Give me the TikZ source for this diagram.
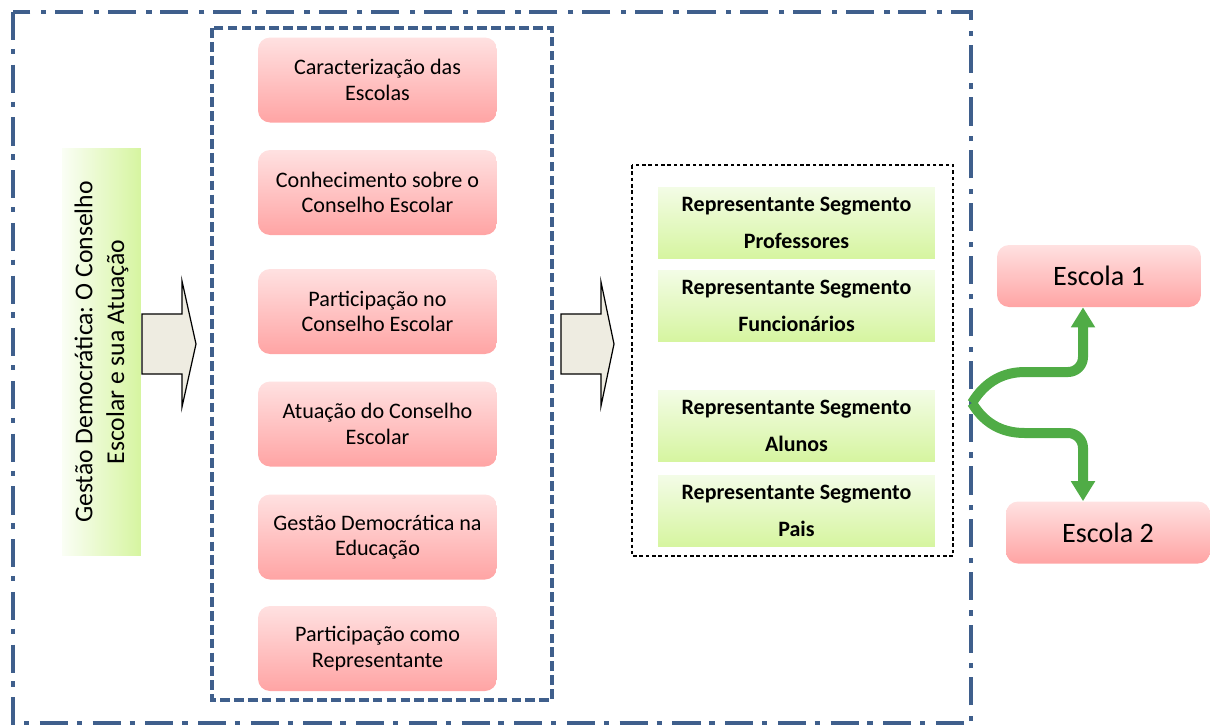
\documentclass[tikz,border=0pt]{standalone}
\usepackage{fontspec}
\setmainfont{Carlito}
\usetikzlibrary{arrows.meta}
\frenchspacing

\definecolor{framebl}{RGB}{63,95,140}
\definecolor{pinktop}{RGB}{255,225,225}
\definecolor{pinkbot}{RGB}{255,164,164}
\definecolor{limetop}{RGB}{243,252,230}
\definecolor{limebot}{RGB}{214,245,160}
\definecolor{arrowfill}{RGB}{238,236,225}
\definecolor{linkgreen}{RGB}{80,172,70}

\begin{document}
\begin{tikzpicture}[x=0.02cm, y=-0.02cm,
  pinkbox/.style={rounded corners=0.24cm, top color=pinktop, bottom color=pinkbot,
    minimum width=4.78cm, minimum height=1.7cm, align=center,
    font=\fontsize{12.6}{14.5}\selectfont},
  schoolbox/.style={pinkbox, minimum width=4.08cm, minimum height=1.24cm,
    font=\fontsize{16}{18}\selectfont},
  segbox/.style={top color=limetop, bottom color=limebot,
    minimum width=5.54cm, minimum height=1.42cm, align=center,
    font=\fontsize{12.5}{21}\selectfont\bfseries},
  blockarrow/.style={draw=black, fill=arrowfill, line width=0.7pt},
  linkarrow/.style={linkgreen, line width=0.2cm, rounded corners=0.3cm,
    -{Triangle[length=0.4cm, width=0.46cm]}}]

  \useasboundingbox (0,0) rectangle (1210,725);

  % outer frame
  \draw[framebl, line width=2.2pt, dash pattern=on 16pt off 5pt on 3pt off 6pt]
    (13,12) rectangle (971,723);
  % frame of the themes
  \draw[framebl, line width=2pt, dash pattern=on 5.5pt off 2.4pt]
    (212,28) rectangle (552,700);
  % frame of the segments
  \draw[black, line width=0.7pt, dash pattern=on 2pt off 1.6pt]
    (632,165) rectangle (953,556);

  % title box, text turned
  \node[left color=limetop!40!white, right color=limebot,
    minimum width=1.58cm, minimum height=8.16cm] (gd) at (101.5,352) {};
  \node[rotate=90, align=center, font=\fontsize{14.6}{18}\selectfont] (gdtext) at (gd)
    {Gestão Democrática: O Conselho\\Escolar e sua Atuação};

  % themes
  \node[pinkbox] (carac)  at (377.5,80)    {Caracterização das\\Escolas};
  \node[pinkbox] (conhec) at (377.5,192.5) {Conhecimento sobre o\\Conselho Escolar};
  \node[pinkbox] (partic) at (377.5,311.5) {Participação no\\Conselho Escolar};
  \node[pinkbox] (atua)   at (377.5,424)   {Atuação do Conselho\\Escolar};
  \node[pinkbox] (gestao) at (377.5,537)   {Gestão Democrática na\\Educação};
  \node[pinkbox] (repres) at (377.5,648.5) {Participação como\\Representante};

  % block arrows
  \filldraw[blockarrow] (142,314) -- (182,314) -- (182,281) -- (196,344)
    -- (182,407) -- (182,374) -- (142,374) -- cycle;
  \filldraw[blockarrow] (561,314) -- (601,314) -- (601,282) -- (614,344)
    -- (601,406) -- (601,374) -- (561,374) -- cycle;

  % segments
  \node[segbox] (prof) at (796.5,222.5) {Representante Segmento\\Professores};
  \node[segbox] (func) at (796.5,305.5) {Representante Segmento\\Funcionários};
  \node[segbox] (alun) at (796.5,425.5) {Representante Segmento\\Alunos};
  \node[segbox] (pais) at (796.5,511)   {Representante Segmento\\Pais};

  % schools
  \node[schoolbox] (esc1) at (1099,276)   {Escola 1};
  \node[schoolbox] (esc2) at (1108,532.5) {Escola 2};

  % link to the schools
  \coordinate (split) at (972,403);
  \draw[linkarrow] (split) .. controls (986,380) and (1005,372) .. (1040,372)
    -- (1083,372) -- (1083,372 |- esc1.south);
  \draw[linkarrow] (split) .. controls (986,426) and (1005,433) .. (1040,433)
    -- (1083,433) -- (1083,433 |- esc2.north);
\end{tikzpicture}
\end{document}
